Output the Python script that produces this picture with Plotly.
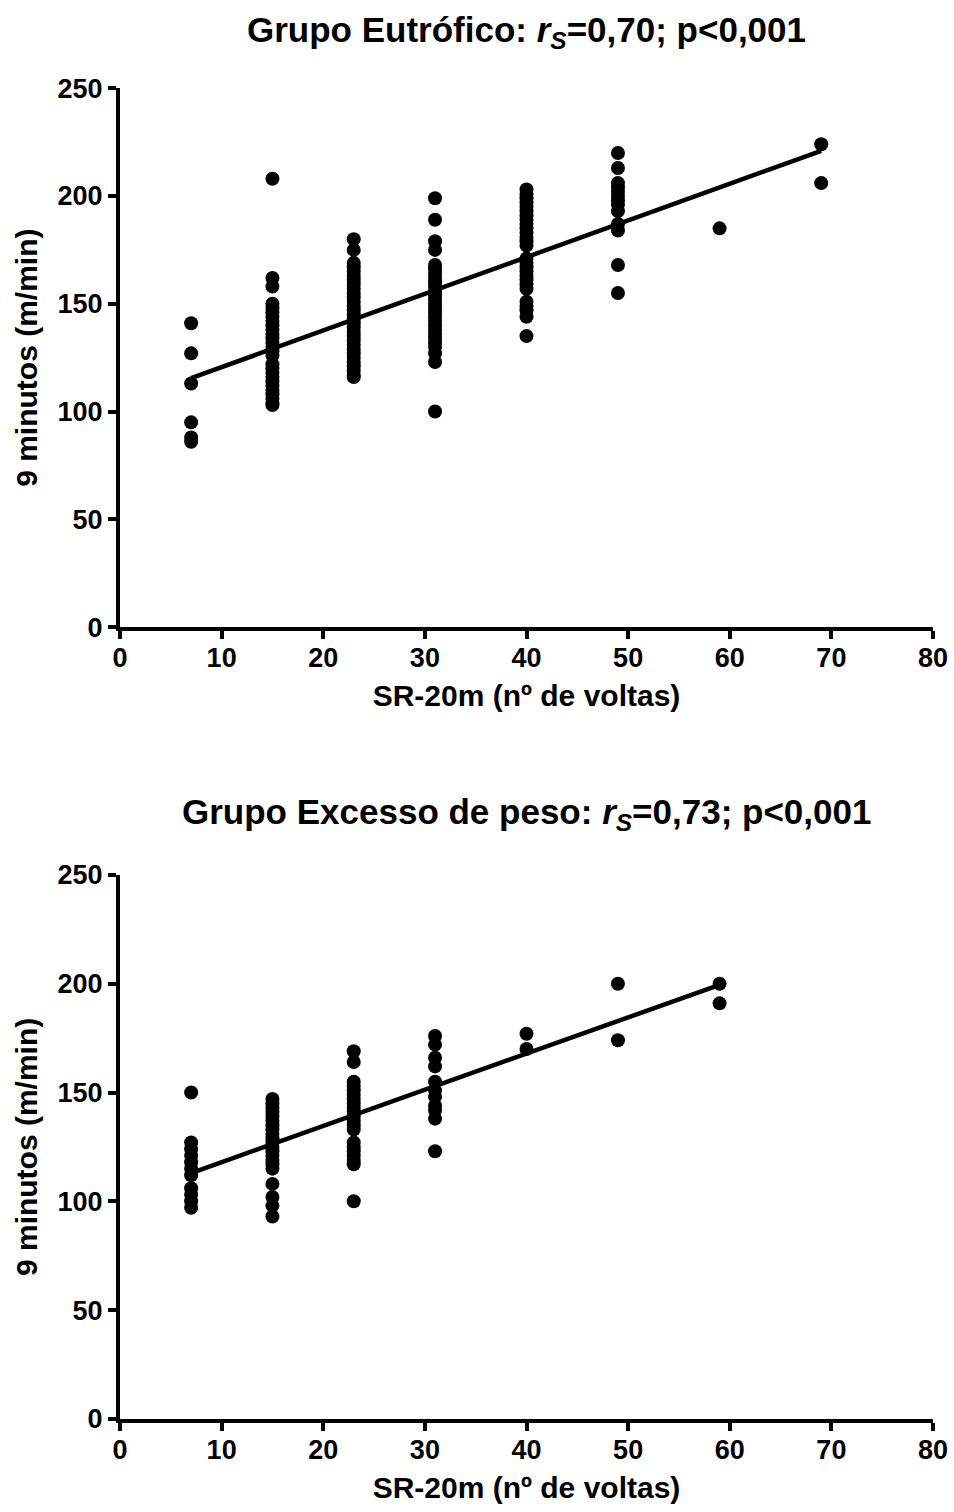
import plotly.graph_objects as go

# ---- Data: Grupo Eutrófico ----
eut_x7 = [141, 127, 113, 95, 88, 86]
eut_x15 = [208, 162, 158, 150, 148, 146, 144, 142, 140, 138, 136, 134, 132, 130, 128, 126,
           122, 120, 118, 116, 114, 112, 110, 108, 106, 104, 103]
eut_x23 = [180, 175, 169, 167, 165, 163, 161, 159, 157, 155, 153, 151, 149, 147, 145, 143,
           141, 139, 137, 135, 133, 131, 129, 127, 125, 123, 121, 119, 117, 116]
eut_x31 = [199, 189, 179, 175, 168, 166, 164, 162, 160, 158, 156, 154, 152, 150, 148, 146,
           144, 142, 140, 138, 136, 134, 132, 130, 127, 123, 100]
eut_x40 = [203, 201, 199, 197, 195, 193, 191, 189, 187, 185, 183, 181, 179, 177, 171, 169,
           167, 165, 163, 161, 159, 157, 151, 149, 147, 144, 135]
eut_x49 = [220, 213, 206, 204, 202, 200, 198, 196, 193, 187, 184, 168, 155]
eut_x59 = [185]
eut_x69 = [224, 206]
eut_fit_x = [7, 69]
eut_fit_y = [115.5, 221]

# ---- Data: Grupo Excesso de peso ----
exc_x7 = [150, 127, 124, 121, 118, 115, 112, 106, 103, 100, 97]
exc_x15 = [147, 145, 143, 141, 139, 137, 135, 133, 131, 129, 127, 125, 123, 121, 119, 117,
           115, 108, 102, 98, 93]
exc_x23 = [169, 164, 155, 153, 151, 149, 147, 145, 143, 141, 139, 137, 135, 133, 127, 125,
           123, 121, 119, 117, 100]
exc_x31 = [176, 172, 166, 162, 155, 151, 148, 144, 142, 138, 123]
exc_x40 = [177, 170]
exc_x49 = [200, 174]
exc_x59 = [200, 191]
exc_fit_x = [7, 59]
exc_fit_y = [113, 199.5]

x_ticks = [0, 10, 20, 30, 40, 50, 60, 70, 80]
y_ticks = [0, 50, 100, 150, 200, 250]

title_top = "Grupo Eutrófico: <i>r<sub>S</sub></i>=0,70; p<0,001"
title_bot = "Grupo Excesso de peso: <i>r<sub>S</sub></i>=0,73; p<0,001"
x_title = "SR-20m (nº de voltas)"
y_title = "9 minutos (m/min)"


def flatten(cols):
    xs, ys = [], []
    for xv, vals in cols:
        xs += [xv] * len(vals)
        ys += vals
    return xs, ys


eut_xs, eut_ys = flatten([(7, eut_x7), (15, eut_x15), (23, eut_x23), (31, eut_x31),
                          (40, eut_x40), (49, eut_x49), (59, eut_x59), (69, eut_x69)])
exc_xs, exc_ys = flatten([(7, exc_x7), (15, exc_x15), (23, exc_x23), (31, exc_x31),
                          (40, exc_x40), (49, exc_x49), (59, exc_x59)])

FONT = "Liberation Sans, Arial, sans-serif"
fig = go.Figure()

marker = dict(color="black", size=14)
line = dict(color="black", width=4.5)

fig.add_trace(go.Scatter(x=eut_xs, y=eut_ys, mode="markers", marker=marker,
                         xaxis="x", yaxis="y", showlegend=False))
fig.add_trace(go.Scatter(x=eut_fit_x, y=eut_fit_y, mode="lines", line=line,
                         xaxis="x", yaxis="y", showlegend=False))
fig.add_trace(go.Scatter(x=exc_xs, y=exc_ys, mode="markers", marker=marker,
                         xaxis="x2", yaxis="y2", showlegend=False))
fig.add_trace(go.Scatter(x=exc_fit_x, y=exc_fit_y, mode="lines", line=line,
                         xaxis="x2", yaxis="y2", showlegend=False))

H = 1512.0
tickfont = dict(family=FONT, size=27, color="black", weight="bold")
titlefont = dict(family=FONT, size=30, color="black", weight="bold")


def py(px):
    # pixel row from top -> paper fraction (compensating observed capture offset)
    return 1 - ((px - 14.7) / 0.9805) / H


def xax(anchor):
    return dict(range=[0, 80], tickvals=x_ticks, showline=True, linewidth=4, linecolor="black",
                ticks="outside", ticklen=8, tickwidth=4, tickcolor="black",
                showgrid=False, zeroline=False, tickfont=tickfont, anchor=anchor,
                ticklabelstandoff=-4,
                title=dict(text=x_title, font=titlefont, standoff=14))


def yax(anchor, dom):
    return dict(range=[0, 250], tickvals=y_ticks, showline=True, linewidth=4, linecolor="black",
                ticks="outside", ticklen=8, tickwidth=4, tickcolor="black",
                showgrid=False, zeroline=False, tickfont=tickfont, anchor=anchor, domain=dom,
                title=dict(text=y_title, font=titlefont, standoff=12))


fig.update_layout(
    width=954, height=1512,
    margin=dict(l=120, r=21, t=0, b=0),
    plot_bgcolor="white", paper_bgcolor="white",
    font=dict(family=FONT, color="black"),
    xaxis=xax("y"),
    yaxis=yax("x", [py(627), py(88)]),
    xaxis2=xax("y2"),
    yaxis2=yax("x2", [py(1419), py(875)]),
    annotations=[
        dict(text="<b>" + title_top + "</b>", x=0.5, y=py(32), xref="paper", yref="paper",
             showarrow=False, font=dict(family=FONT, size=35, color="black"),
             xanchor="center", yanchor="middle"),
        dict(text="<b>" + title_bot + "</b>", x=0.5, y=py(814), xref="paper", yref="paper",
             showarrow=False, font=dict(family=FONT, size=35, color="black"),
             xanchor="center", yanchor="middle"),
    ],
)

fig.write_html("out.html", config={"displayModeBar": False},
               post_script="document.body.style.margin='0';document.body.style.overflow='hidden';")
